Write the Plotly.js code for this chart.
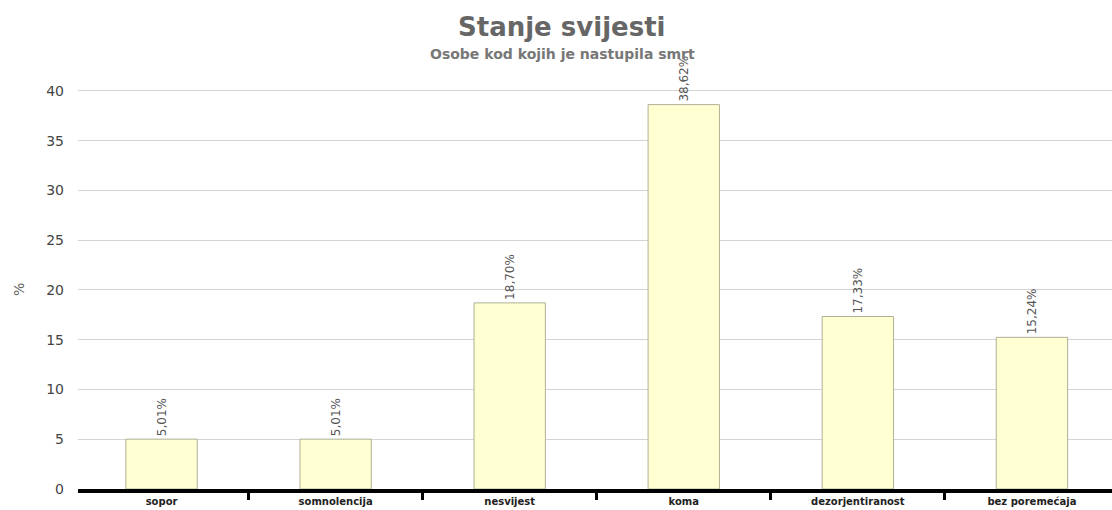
<!DOCTYPE html>
<html>
<head>
<meta charset="utf-8">
<script src="https://cdn.plot.ly/plotly-3.0.1.min.js"></script>
<style>html,body{margin:0;padding:0;background:#fff;}#chart{width:1112px;height:510px;}</style>
</head>
<body>
<div id="chart"></div>
<script>
const categories = ["sopor", "somnolencija", "nesvijest", "koma", "dezorjentiranost", "bez poremećaja"];
const values = [5.01, 5.01, 18.70, 38.62, 17.33, 15.24];
const labels = ["5,01%", "5,01%", "18,70%", "38,62%", "17,33%", "15,24%"];
const yTicks = [0, 5, 10, 15, 20, 25, 30, 35, 40];
const titleText = "Stanje svijesti";
const subtitleText = "Osobe kod kojih je nastupila smrt";
const yTitleText = "%";

const W = 1112, H = 510;
const M = {l: 78, r: 0, t: 70, b: 21};
const plotH = H - M.t - M.b;
const plotW = W - M.l - M.r;
const py = px => (H - M.b - px) / plotH;   // pixel y -> paper y
const pxx = px => (px - M.l) / plotW;      // pixel x -> paper x

const trace = {
  type: "bar",
  x: categories,
  y: values,
  text: labels,
  textposition: "outside",
  textangle: -90,
  constraintext: "none",
  cliponaxis: false,
  textfont: {family: "DejaVu Sans, sans-serif", size: 12, color: "#555"},
  marker: {color: "#FFFFD2", line: {color: "#B0B098", width: 1}},
  hoverinfo: "none"
};

const layout = {
  width: W, height: H,
  margin: M,
  paper_bgcolor: "#fff", plot_bgcolor: "#fff",
  bargap: 0.59,
  showlegend: false,
  font: {family: "DejaVu Sans, sans-serif", color: "#555"},
  xaxis: {
    type: "category",
    range: [-0.48, 5.46],
    showgrid: false,
    showline: true, linecolor: "#000", linewidth: 4,
    ticks: "outside", tickson: "boundaries", ticklen: 7, tickwidth: 3, tickcolor: "#000",
    tickfont: {family: "DejaVu Sans, sans-serif", size: 10, color: "#222", weight: "bold"},
    fixedrange: true
  },
  yaxis: {
    range: [0, 42.1],
    tickvals: yTicks,
    ticktext: yTicks.map(String),
    showgrid: true, gridcolor: "#d4d4d4", gridwidth: 1,
    zeroline: false, showline: false,
    ticks: "", ticklabelstandoff: 13,
    tickfont: {family: "DejaVu Sans, sans-serif", size: 14, color: "#444"},
    fixedrange: true
  },
  annotations: [
    {
      text: "<b>" + titleText + "</b>", xref: "paper", yref: "paper",
      x: pxx(562), y: py(27), xanchor: "center", yanchor: "middle", showarrow: false,
      font: {family: "DejaVu Sans, sans-serif", size: 26, color: "#666"}
    },
    {
      text: "<b>" + subtitleText + "</b>", xref: "paper", yref: "paper",
      x: pxx(562), y: py(54), xanchor: "center", yanchor: "middle", showarrow: false,
      font: {family: "DejaVu Sans, sans-serif", size: 14, color: "#777"}
    },
    {
      text: yTitleText, xref: "paper", yref: "paper",
      x: pxx(19), y: py(290), xanchor: "center", yanchor: "middle",
      textangle: -90, showarrow: false,
      font: {family: "DejaVu Sans, sans-serif", size: 14, color: "#666"}
    }
  ]
};

Plotly.newPlot("chart", [trace], layout, {displayModeBar: false, staticPlot: true});
</script>
</body>
</html>
